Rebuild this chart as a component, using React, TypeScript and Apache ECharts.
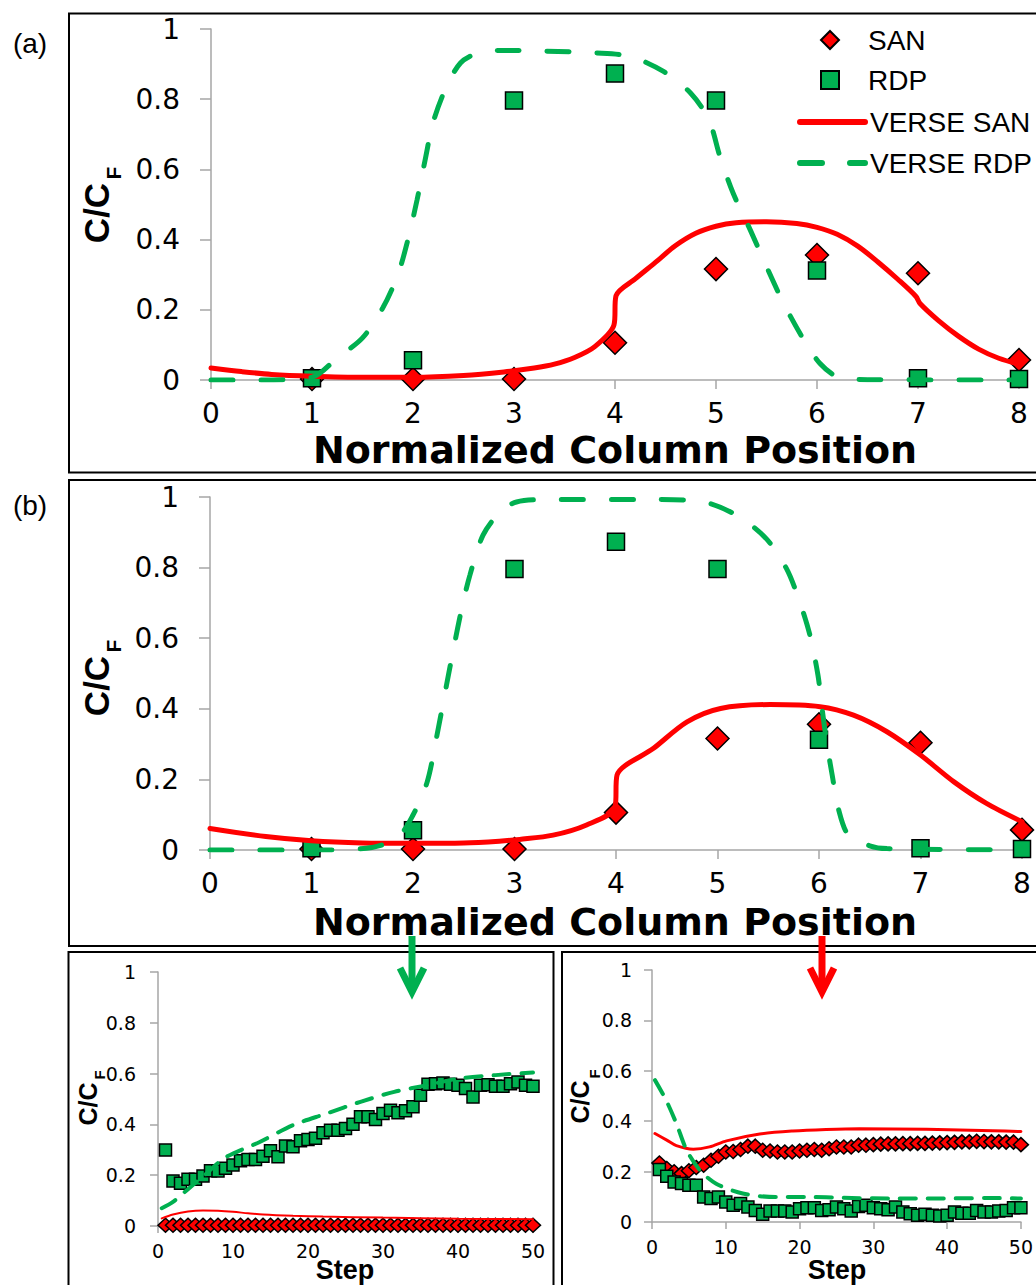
import React, { useEffect, useRef } from "react";
import * as echarts from "echarts";

// Measured breakthrough concentrations along the column (panels a and b)
const positions = [1, 2, 3, 4, 5, 6, 7, 8];
const sanMeasured = [0.003, 0.003, 0.003, 0.106, 0.316, 0.356, 0.304, 0.057];
const rdpMeasured = [0.005, 0.056, 0.796, 0.873, 0.796, 0.312, 0.005, 0.003];

// VERSE model profiles, panel (a): [normalized position, C/CF]
const verseSanA: [number, number][] = [
  [0, 0.034], [0.3, 0.024], [0.6, 0.016], [1, 0.011], [1.5, 0.008], [2, 0.008],
  [2.5, 0.013], [2.9, 0.023], [3.2, 0.034], [3.4, 0.045], [3.6, 0.064], [3.8, 0.095],
  [3.99, 0.157], [4.01, 0.24], [4.2, 0.288], [4.4, 0.335], [4.6, 0.383], [4.8, 0.418],
  [5.0, 0.438], [5.2, 0.448], [5.5, 0.451], [5.8, 0.446], [6.0, 0.435], [6.2, 0.415],
  [6.4, 0.382], [6.6, 0.337], [6.8, 0.287], [6.98, 0.238], [7.02, 0.218], [7.2, 0.17],
  [7.4, 0.125], [7.6, 0.088], [7.8, 0.062], [8.0, 0.045],
];
const verseRdpA: [number, number][] = [
  [0, 0], [0.5, 0], [1.0, 0.008], [1.25, 0.063], [1.5, 0.12], [1.7, 0.205],
  [1.85, 0.3], [1.95, 0.4], [2.04, 0.513], [2.12, 0.627], [2.2, 0.735], [2.33, 0.835],
  [2.47, 0.903], [2.63, 0.93], [2.86, 0.939], [3.3, 0.937], [3.8, 0.932], [4.15, 0.922],
  [4.48, 0.879], [4.75, 0.817], [4.93, 0.741], [5.04, 0.636], [5.17, 0.532], [5.34, 0.427],
  [5.5, 0.323], [5.67, 0.218], [5.87, 0.114], [6.03, 0.047], [6.2, 0.01], [6.5, 0.001],
  [8, 0],
];

// VERSE model profiles, panel (b)
const verseSanB: [number, number][] = [
  [0, 0.061], [0.55, 0.038], [1, 0.026], [1.5, 0.02], [2, 0.019], [2.5, 0.02],
  [2.85, 0.025], [3.05, 0.03], [3.38, 0.042], [3.71, 0.071], [3.99, 0.12], [4.01, 0.212],
  [4.37, 0.288], [4.7, 0.363], [5.03, 0.401], [5.52, 0.412], [6.01, 0.406], [6.34, 0.382],
  [6.67, 0.335], [7.0, 0.269], [7.33, 0.193], [7.65, 0.132], [8.0, 0.08],
];
const verseRdpB: [number, number][] = [
  [0, 0], [1, 0], [1.54, 0.005], [1.84, 0.033], [2.0, 0.099], [2.14, 0.193],
  [2.23, 0.316], [2.33, 0.467], [2.4, 0.571], [2.48, 0.684], [2.56, 0.778], [2.69, 0.892],
  [2.86, 0.958], [3.02, 0.986], [3.38, 0.993], [4.37, 0.993], [4.86, 0.986], [5.19, 0.948],
  [5.48, 0.882], [5.68, 0.797], [5.81, 0.703], [5.91, 0.609], [5.99, 0.495], [6.03, 0.401],
  [6.08, 0.297], [6.13, 0.212], [6.19, 0.118], [6.29, 0.042], [6.5, 0.012], [6.67, 0.004],
  [8, 0],
];

// Step histories (lower panels)
const steps = [
  1, 2, 3, 4, 5, 6, 7, 8, 9, 10, 11, 12, 13, 14, 15, 16, 17, 18, 19, 20, 21, 22, 23, 24, 25,
  26, 27, 28, 29, 30, 31, 32, 33, 34, 35, 36, 37, 38, 39, 40, 41, 42, 43, 44, 45, 46, 47, 48, 49, 50,
];
const leftRdp = [
  0.299, 0.177, 0.168, 0.184, 0.184, 0.197, 0.218, 0.217, 0.227, 0.24,
  0.257, 0.262, 0.262, 0.275, 0.296, 0.273, 0.315, 0.312, 0.336, 0.341,
  0.345, 0.367, 0.377, 0.377, 0.384, 0.401, 0.43, 0.43, 0.419, 0.443,
  0.456, 0.446, 0.454, 0.469, 0.515, 0.558, 0.56, 0.563, 0.558, 0.554,
  0.541, 0.508, 0.554, 0.556, 0.55, 0.55, 0.56, 0.567, 0.554, 0.55,
];
const leftSan = [
  0.003, 0.003, 0.003, 0.003, 0.003, 0.003, 0.003, 0.003, 0.003, 0.003,
  0.003, 0.003, 0.003, 0.003, 0.003, 0.003, 0.003, 0.003, 0.003, 0.003,
  0.003, 0.003, 0.003, 0.003, 0.003, 0.003, 0.003, 0.003, 0.003, 0.003,
  0.003, 0.003, 0.003, 0.003, 0.003, 0.003, 0.003, 0.003, 0.003, 0.003,
  0.003, 0.003, 0.003, 0.003, 0.003, 0.003, 0.003, 0.003, 0.003, 0.003,
];
const leftVerseSan: [number, number][] = [
  [0.5, 0.03], [2, 0.045], [4, 0.057], [6, 0.061], [8, 0.06], [10, 0.056], [12, 0.05],
  [14, 0.045], [18, 0.04], [22, 0.037], [30, 0.033], [40, 0.029], [50, 0.027],
];
const leftVerseRdp: [number, number][] = [
  [0.5, 0.07], [2, 0.095], [4, 0.145], [6, 0.195], [9, 0.27], [13.5, 0.33], [18, 0.397],
  [22.5, 0.443], [27, 0.489], [31.5, 0.528], [36, 0.555], [40, 0.58], [45, 0.594], [50, 0.604],
];

const rightSan = [
  0.234, 0.212, 0.199, 0.192, 0.203, 0.216, 0.225, 0.245, 0.261, 0.278,
  0.28, 0.288, 0.301, 0.301, 0.285, 0.282, 0.278, 0.278, 0.278, 0.282,
  0.285, 0.288, 0.285, 0.291, 0.298, 0.298, 0.298, 0.305, 0.305, 0.307,
  0.309, 0.31, 0.31, 0.311, 0.311, 0.312, 0.312, 0.313, 0.314, 0.315,
  0.316, 0.318, 0.318, 0.32, 0.319, 0.318, 0.318, 0.317, 0.317, 0.307,
];
const rightRdp = [
  0.208, 0.182, 0.159, 0.153, 0.146, 0.146, 0.099, 0.093, 0.099, 0.079,
  0.066, 0.073, 0.06, 0.046, 0.031, 0.044, 0.044, 0.044, 0.04, 0.053,
  0.057, 0.057, 0.046, 0.049, 0.06, 0.053, 0.044, 0.062, 0.066, 0.057,
  0.053, 0.049, 0.06, 0.04, 0.033, 0.027, 0.031, 0.027, 0.024, 0.027,
  0.04, 0.035, 0.035, 0.046, 0.04, 0.04, 0.044, 0.046, 0.057, 0.057,
];
const rightVerseSan: [number, number][] = [
  [0.4, 0.351], [2, 0.325], [3.3, 0.303], [5.6, 0.289], [7.8, 0.298], [10.1, 0.322],
  [14.6, 0.349], [19.1, 0.361], [23.6, 0.367], [28.1, 0.37], [37.2, 0.368], [46.2, 0.362],
  [50, 0.359],
];
const rightVerseRdp: [number, number][] = [
  [0.4, 0.563], [1.9, 0.484], [3.3, 0.391], [4.7, 0.285], [6.5, 0.205], [8.7, 0.152],
  [12.3, 0.113], [16.8, 0.099], [21.3, 0.099], [25.9, 0.096], [32.7, 0.093], [37.2, 0.093],
  [46.2, 0.095], [50, 0.093],
];

const RED = "#ff0000";
const GREEN = "#00b050";
const AXIS_GRAY = "#a6a6a6";

function pairs(xs: number[], ys: number[]): [number, number][] {
  return xs.map((x, i) => [x, ys[i]]);
}

function xAxisCfg(gridIndex: number, max: number, interval: number, big: boolean) {
  return {
    type: "value",
    gridIndex,
    min: 0,
    max,
    interval,
    axisLine: { show: true, lineStyle: { color: AXIS_GRAY, width: 1.5 } },
    axisTick: { show: true, length: big ? 9 : 7, lineStyle: { color: AXIS_GRAY, width: 1.5 } },
    splitLine: { show: false },
    axisLabel: {
      color: "#000",
      fontFamily: "DejaVu Sans",
      fontSize: big ? 28 : 19,
      lineHeight: big ? 22 : 16,
      margin: big ? 22 : 17,
    },
  };
}

function yAxisCfg(gridIndex: number, big: boolean, margin: number) {
  return {
    type: "value",
    gridIndex,
    min: 0,
    max: 1,
    interval: 0.2,
    axisLine: { show: true, lineStyle: { color: AXIS_GRAY, width: 1.5 } },
    axisTick: { show: true, length: big ? 11 : 8, lineStyle: { color: AXIS_GRAY, width: 1.5 } },
    splitLine: { show: false },
    axisLabel: {
      color: "#000",
      fontFamily: "DejaVu Sans",
      fontSize: big ? 28 : 19,
      margin,
    },
  };
}

function scatter(name: string, idx: number, data: [number, number][], symbol: string, size: number | number[], color: string) {
  return {
    name,
    type: "scatter",
    xAxisIndex: idx,
    yAxisIndex: idx,
    data,
    symbol,
    symbolSize: size,
    itemStyle: { color, borderColor: "#000", borderWidth: 1.5, opacity: 1 },
    emphasis: { disabled: true },
  };
}

function curve(name: string, idx: number, data: [number, number][], color: string, width: number, dash: any) {
  return {
    name,
    type: "line",
    xAxisIndex: idx,
    yAxisIndex: idx,
    data,
    smooth: 0.3,
    symbol: "none",
    showSymbol: false,
    lineStyle: { color, width, type: dash, cap: "round" },
    itemStyle: { color },
    emphasis: { disabled: true },
  };
}

function rotatedText(text: string, x: number, y: number, size: number) {
  return {
    type: "text",
    x,
    y,
    rotation: Math.PI / 2,
    style: {
      text,
      fontFamily: "Liberation Sans",
      fontWeight: "bold",
      fontSize: size,
      fill: "#000",
      align: "center",
      verticalAlign: "middle",
    },
  };
}

function plainText(text: string, x: number, y: number, size: number, family: string, weight: string, lineHeight?: number) {
  return {
    type: "text",
    x,
    y,
    style: {
      text,
      fontFamily: family,
      fontWeight: weight,
      fontSize: size,
      lineHeight: lineHeight ?? size,
      fill: "#000",
      align: "center",
      verticalAlign: "middle",
    },
  };
}

function frame(x: number, y: number, w: number, h: number) {
  return {
    type: "rect",
    shape: { x, y, width: w, height: h },
    style: { fill: "none", stroke: "#000", lineWidth: 2 },
    z: 10,
  };
}

function arrow(x: number, top: number, tip: number, color: string) {
  return [
    {
      type: "line",
      shape: { x1: x, y1: top, x2: x, y2: tip - 3 },
      style: { stroke: color, lineWidth: 7 },
      z: 20,
    },
    {
      type: "polyline",
      shape: { points: [[x - 12, tip - 24], [x, tip], [x + 12, tip - 24]] },
      style: { stroke: color, lineWidth: 7, fill: "none", lineJoin: "miter" },
      z: 20,
    },
  ];
}

const legendText = { fontFamily: "Liberation Sans", fontSize: 28, color: "#000" };

function buildOption() {
  const mainDash = [22, 28];
  const smallDash = [16, 12];
  return {
    animation: false,
    backgroundColor: "#fff",
    grid: [
      { left: 211, top: 29, width: 808, height: 351 },
      { left: 210, top: 497, width: 812, height: 353 },
      { left: 158, top: 972, width: 375, height: 254 },
      { left: 652, top: 970, width: 369, height: 252 },
    ],
    xAxis: [
      xAxisCfg(0, 8, 1, true),
      xAxisCfg(1, 8, 1, true),
      xAxisCfg(2, 50, 10, false),
      xAxisCfg(3, 50, 10, false),
    ],
    yAxis: [
      yAxisCfg(0, true, 31),
      yAxisCfg(1, true, 31),
      yAxisCfg(2, false, 22),
      yAxisCfg(3, false, 20),
    ],
    legend: [
      {
        show: true,
        orient: "vertical",
        left: 815,
        top: 21,
        itemWidth: 18,
        itemHeight: 18,
        itemGap: 12,
        selectedMode: false,
        symbolKeepAspect: true,
        data: [
          { name: "SAN", icon: "diamond" },
          { name: "RDP", icon: "rect" },
        ],
        textStyle: { ...legendText, padding: [0, 0, 0, 24] },
      },
      {
        show: true,
        orient: "vertical",
        left: 792,
        top: 103,
        itemWidth: 65,
        itemHeight: 18,
        itemGap: 13,
        selectedMode: false,
        itemStyle: { opacity: 0 },
        lineStyle: { width: 6 },
        data: ["VERSE SAN", "VERSE RDP"],
        textStyle: legendText,
      },
    ],
    series: [
      scatter("SAN", 0, pairs(positions, sanMeasured), "diamond", 23, RED),
      scatter("RDP", 0, pairs(positions, rdpMeasured), "rect", 17, GREEN),
      curve("VERSE SAN", 0, verseSanA, RED, 5, "solid"),
      curve("VERSE RDP", 0, verseRdpA, GREEN, 5, mainDash),

      scatter("SAN", 1, pairs(positions, sanMeasured), "diamond", 23, RED),
      scatter("RDP", 1, pairs(positions, rdpMeasured), "rect", 17, GREEN),
      curve("VERSE SAN", 1, verseSanB, RED, 5, "solid"),
      curve("VERSE RDP", 1, verseRdpB, GREEN, 5, mainDash),

      scatter("SAN", 2, pairs(steps, leftSan), "diamond", [15, 14], RED),
      scatter("RDP", 2, pairs(steps, leftRdp), "rect", 12, GREEN),
      curve("VERSE SAN", 2, leftVerseSan, RED, 2, "solid"),
      curve("VERSE RDP", 2, leftVerseRdp, GREEN, 4, smallDash),

      scatter("SAN", 3, pairs(steps, rightSan), "diamond", [15, 14], RED),
      scatter("RDP", 3, pairs(steps, rightRdp), "rect", 12, GREEN),
      curve("VERSE SAN", 3, rightVerseSan, RED, 3, "solid"),
      curve("VERSE RDP", 3, rightVerseRdp, GREEN, 4, smallDash),
    ],
    graphic: [
      frame(69, 13.5, 1000, 459),
      frame(69, 480, 1000, 466),
      frame(68.5, 952, 485, 400),
      frame(562, 952, 500, 400),
      plainText("(a)", 30, 43, 28, "Liberation Sans", "normal"),
      plainText("(b)", 30, 505, 28, "Liberation Sans", "normal"),
      rotatedText("C/C", 96, 213, 35),
      rotatedText("F", 113, 173, 21),
      rotatedText("C/C", 96, 686, 35),
      rotatedText("F", 113, 646, 21),
      rotatedText("C/C", 88, 1104, 25),
      rotatedText("F", 99, 1075, 15),
      rotatedText("C/C", 580, 1102, 25),
      rotatedText("F", 594, 1074, 15),
      plainText("Normalized Column Position", 615, 450, 38, "DejaVu Sans", "bold", 28),
      plainText("Normalized Column Position", 615, 922, 38, "DejaVu Sans", "bold", 28),
      plainText("Step", 345, 1270, 27, "Liberation Sans", "bold", 20),
      plainText("Step", 837, 1270, 27, "Liberation Sans", "bold", 20),
      ...arrow(412, 936, 992, GREEN),
      ...arrow(822, 936, 992, RED),
    ],
  };
}

export default function App() {
  const ref = useRef<HTMLDivElement>(null);
  useEffect(() => {
    if (!ref.current) return;
    const chart = echarts.init(ref.current, undefined, { renderer: "svg" });
    chart.setOption(buildOption() as any);
    return () => chart.dispose();
  }, []);
  return (
    <div
      ref={ref}
      style={{ position: "absolute", left: 0, top: 0, width: 1036, height: 1285, background: "#fff" }}
    />
  );
}
